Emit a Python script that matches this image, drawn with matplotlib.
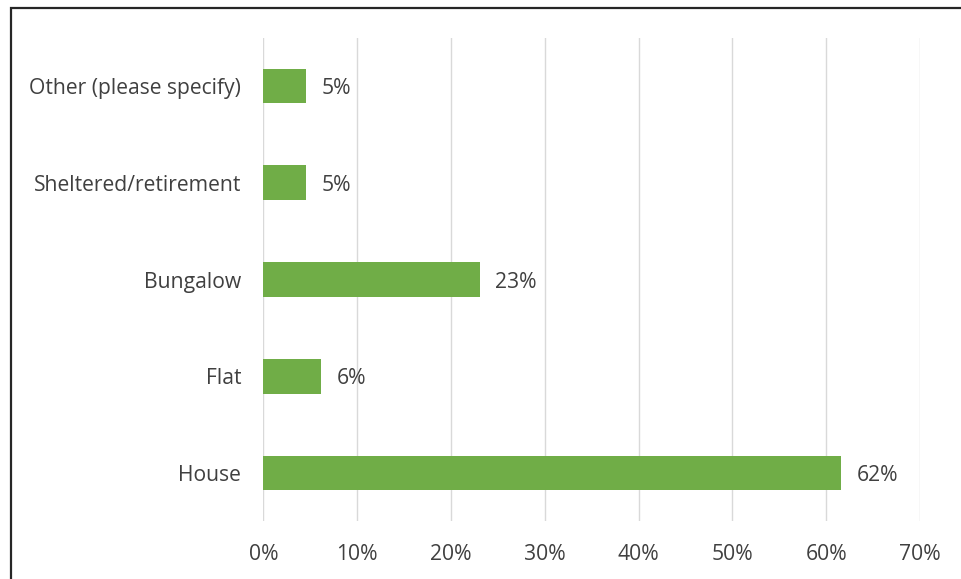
import matplotlib
matplotlib.use("Agg")
import matplotlib.pyplot as plt
from matplotlib.patches import Rectangle
from matplotlib.ticker import FuncFormatter

# Housing type shares (percent), bottom to top
categories = ["House", "Flat", "Bungalow", "Sheltered/retirement", "Other (please specify)"]
shares = [61.6, 6.2, 23.1, 4.6, 4.6]
x_ticks = [0, 10, 20, 30, 40, 50, 60, 70]

plt.rcParams['font.family'] = ['Open Sans', 'DejaVu Sans']
text_color = "#404040"
bar_color = "#70AD47"
font_size = 15.2

fig = plt.figure(figsize=(9.61, 5.79), dpi=100)
ax = fig.add_axes([0.274, 0.0995, 0.6834, 0.8355])

y = range(len(categories))
ax.barh(y, shares, height=0.36, color=bar_color, zorder=3)

for yi, v in zip(y, shares):
    ax.annotate(f"{v:.0f}%", xy=(v, yi), xytext=(11, 0), textcoords="offset points",
                va="center_baseline", ha="left", fontsize=font_size, color=text_color)

ax.set_xlim(0, 70)
ax.set_ylim(-0.5, len(categories) - 0.5)
ax.set_xticks(x_ticks)
ax.xaxis.set_major_formatter(FuncFormatter(lambda v, p: f"{v:.0f}%"))
ax.set_yticks(list(y))
ax.set_yticklabels(categories)

ax.grid(axis="x", color="#D9D9D9", linewidth=1.0, zorder=0)
ax.grid(axis="y", visible=False)
for s in ax.spines.values():
    s.set_visible(False)
ax.tick_params(axis="both", length=0, labelsize=font_size, labelcolor=text_color)
ax.tick_params(axis="x", pad=16)
ax.tick_params(axis="y", pad=16)

# Outer frame around the chart area
fig.patches.append(Rectangle((11 / 961, -0.1), 1.2, 1 - 8 / 579 + 0.1,
                             transform=fig.transFigure, fill=False,
                             edgecolor="#262626", linewidth=1.6))

fig.savefig("out.png", dpi=100)
